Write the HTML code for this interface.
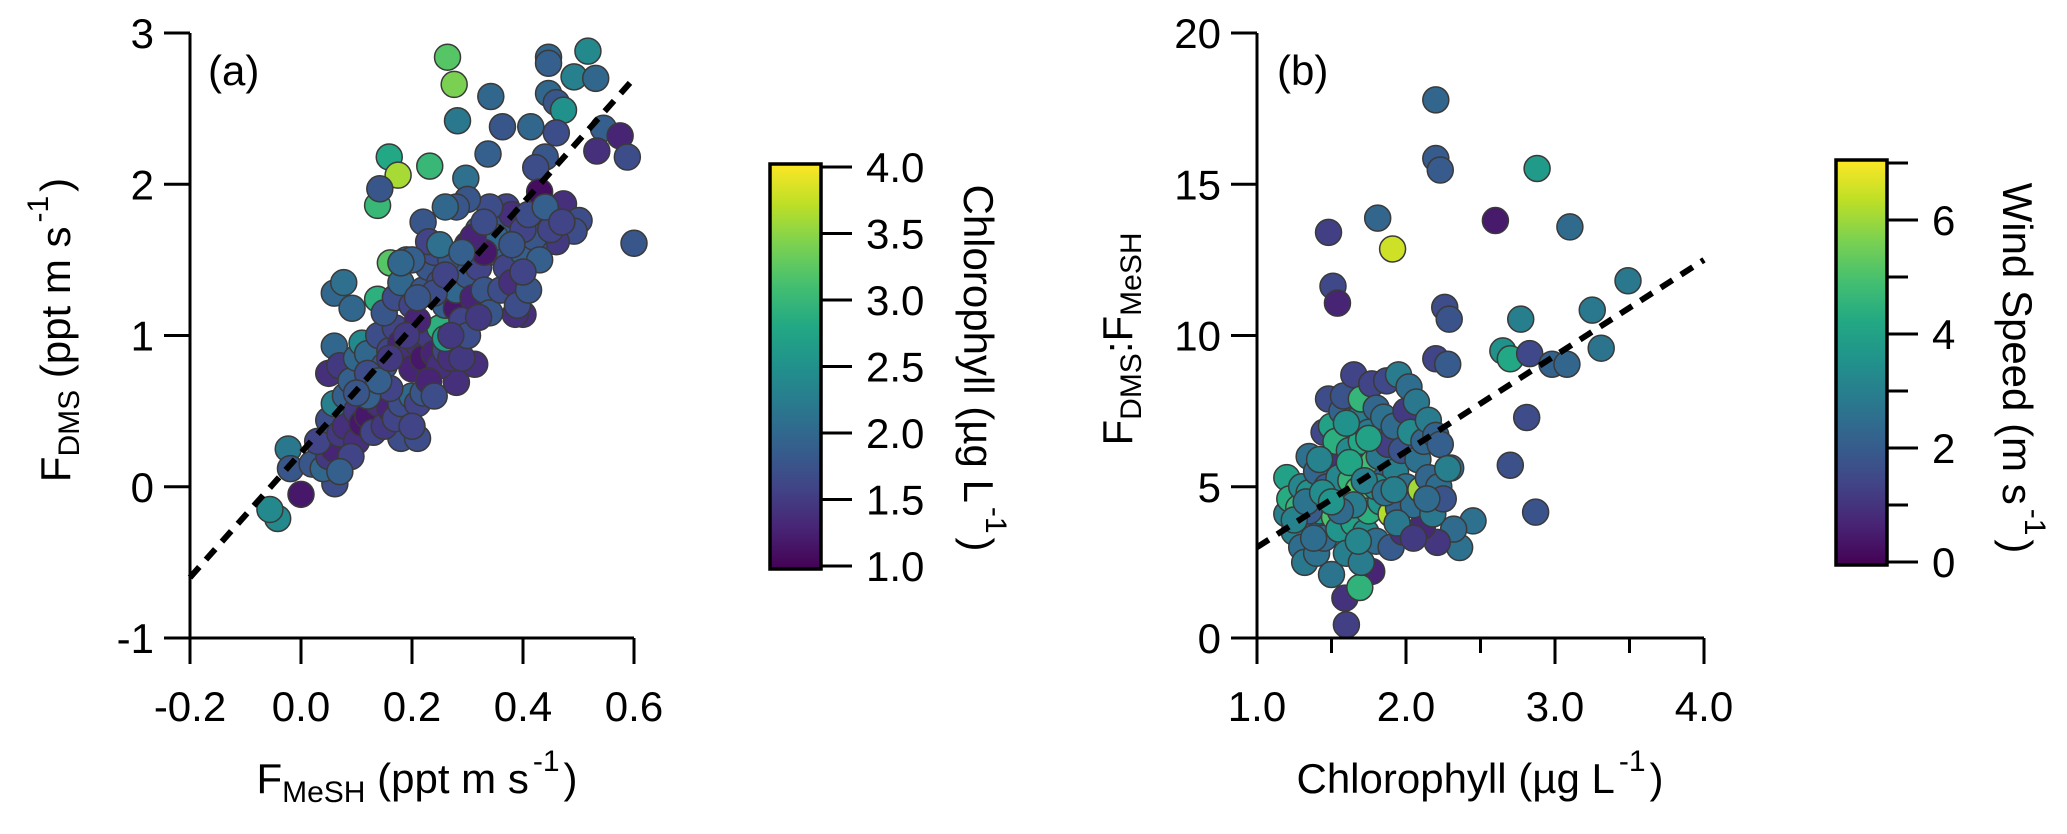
<!DOCTYPE html>
<html><head><meta charset="utf-8"><style>
html,body{margin:0;padding:0;background:#fff;}
svg{display:block;font-family:"Liberation Sans",Arial,sans-serif;}
</style></head><body>
<svg id="chart" width="2067" height="834" viewBox="0 0 2067 834" xmlns="http://www.w3.org/2000/svg">
<defs>
<linearGradient id="vir" x1="0" y1="1" x2="0" y2="0">
<stop offset="0" stop-color="#440154"/><stop offset="0.1" stop-color="#482475"/><stop offset="0.2" stop-color="#414487"/><stop offset="0.3" stop-color="#355f8d"/><stop offset="0.4" stop-color="#2a788e"/><stop offset="0.5" stop-color="#21918c"/><stop offset="0.6" stop-color="#22a884"/><stop offset="0.7" stop-color="#44bf70"/><stop offset="0.8" stop-color="#7ad151"/><stop offset="0.9" stop-color="#bddf26"/><stop offset="1" stop-color="#fde725"/>
</linearGradient>
</defs>
<g id="pa"></g>
<g id="pb"></g>
</svg>
<script>
// Panel a data: FMeSH, FDMS, chlorophyll
const aX=[0.264,0.276,0.282,0.342,0.363,0.337,0.414,0.446,0.446,0.517,0.492,0.531,0.446,0.46,0.473,0.46,0.545,0.575,0.533,0.588,0.44,0.423,0.43,0.473,0.60,0.501,0.492,0.46,0.42,0.159,0.175,0.232,0.138,0.142,0.297,0.06,0.077,0.092,0.138,0.161,-0.042,-0.056,0.0,-0.023,-0.019,0.061,0.06,0.18,0.21,0.313,0.28,0.40,0.386,
0.02,0.04,0.05,0.06,0.03,0.05,0.07,0.08,0.06,0.08,0.1,0.1,0.11,0.12,0.13,0.14,0.15,0.16,0.17,0.18,0.2,0.21,0.22,0.05,0.07,0.09,0.1,0.11,0.12,0.13,0.14,0.15,0.16,0.17,0.18,0.19,0.2,0.21,0.22,0.23,0.24,0.25,0.26,0.27,0.29,0.25,0.26,0.15,0.17,0.18,0.19,0.2,0.21,0.22,0.23,0.24,0.25,0.26,0.27,0.28,0.28,0.29,0.3,0.3,0.31,0.32,0.33,0.34,0.35,0.36,0.37,0.38,0.39,0.4,0.41,0.42,0.43,0.36,0.37,0.38,0.4,0.41,0.34,0.32,0.3,0.28,0.26,0.22,0.23,0.2,0.18,0.24,0.16,0.12,0.09,0.07,0.2,0.23,0.24,0.3,0.32,0.27,0.45,0.44,0.47,0.35,0.33,0.31,0.25,
0.12,0.14,0.19,0.21,0.26,0.29,0.33,0.38,0.4,0.1,0.16];
const aY=[2.84,2.66,2.42,2.58,2.38,2.20,2.38,2.84,2.80,2.88,2.71,2.70,2.60,2.54,2.49,2.34,2.37,2.32,2.22,2.18,2.18,2.11,1.95,1.87,1.61,1.76,1.69,1.62,1.59,2.18,2.06,2.12,1.86,1.97,2.04,1.28,1.35,1.18,1.24,1.48,-0.21,-0.15,-0.05,0.25,0.12,0.02,0.93,0.32,0.32,0.81,0.69,1.14,1.14,
0.15,0.12,0.2,0.25,0.3,0.44,0.35,0.4,0.55,0.6,0.5,0.3,0.42,0.47,0.36,0.55,0.4,0.52,0.45,0.55,0.6,0.55,0.62,0.75,0.8,0.7,0.85,0.95,0.88,0.72,1.0,0.8,0.9,1.05,0.95,0.9,0.78,0.95,0.85,1.0,0.88,0.8,0.9,0.85,0.85,1.05,0.98,1.15,1.25,1.35,1.5,1.2,1.1,1.3,1.45,1.55,1.35,1.2,1.5,1.18,1.3,1.1,1.4,1.6,1.25,1.45,1.3,1.15,1.55,1.3,1.45,1.35,1.2,1.55,1.3,1.65,1.5,1.75,1.85,1.8,1.7,1.8,1.85,1.7,1.9,1.85,1.85,1.75,1.62,1.5,1.48,1.28,0.65,0.6,0.2,0.1,0.4,0.7,0.6,1.0,1.12,1.0,1.7,1.85,1.75,1.65,1.55,1.65,1.6,
0.75,0.7,1.0,1.25,1.4,1.55,1.75,1.6,1.42,0.62,0.85];
const aC=[3.2,3.4,2.2,2.0,1.8,1.9,2.0,2.0,1.9,2.4,2.3,2.0,2.0,1.8,2.5,1.7,1.9,1.3,1.4,1.7,1.8,1.7,1.1,1.4,1.8,1.7,1.7,1.5,1.7,2.8,3.6,3.0,3.0,1.8,2.1,2.0,2.1,2.0,2.9,3.2,2.4,2.4,1.2,2.2,1.8,1.7,2.0,1.7,1.7,1.4,1.4,1.4,1.4,
1.8,2.0,1.5,1.3,1.6,1.7,1.5,1.4,2.3,1.9,1.5,1.4,1.2,1.2,1.6,1.4,1.5,1.3,1.6,1.7,2.0,1.6,1.8,1.4,1.5,1.9,2.0,2.4,2.0,2.1,1.7,1.8,1.6,1.6,1.3,1.4,1.3,1.4,1.2,1.5,1.3,1.4,1.6,1.4,1.5,2.9,2.6,1.8,1.7,2.0,1.9,1.6,1.3,1.8,1.8,1.7,1.7,1.9,1.8,1.2,2.0,1.6,1.8,1.3,1.3,1.6,1.8,1.8,1.9,1.7,1.6,1.4,1.7,1.9,1.8,1.8,1.9,1.8,1.6,1.4,1.6,1.7,1.7,1.9,1.8,1.8,2.0,1.8,1.6,1.9,2.0,1.7,1.6,1.9,1.6,1.9,1.6,1.3,1.7,1.7,1.5,1.5,1.6,1.9,1.6,2.0,1.2,1.3,2.1,
1.7,1.9,1.5,1.8,1.6,1.9,1.7,1.8,1.6,1.8,1.5];
const aFit=[[-0.2,-0.6],[0.6,2.7]];
const aXTicks=["-0.2","0.0","0.2","0.4","0.6"];
const aYTicks=["-1","0","1","2","3"];
const aCTicks=["1.0","1.5","2.0","2.5","3.0","3.5","4.0"];
// Panel b data: chlorophyll, ratio, wind speed
const bX=[2.2,2.2,2.23,2.88,1.81,1.48,1.91,2.6,3.1,3.49,1.51,1.54,2.26,2.29,2.77,3.25,3.31,2.65,2.70,2.83,2.98,3.08,2.2,2.28,2.81,2.70,2.87,1.6,1.59,1.77,1.69,2.36,2.45,2.32,2.21,2.11,2.3,
1.2,1.2,1.22,1.25,1.28,1.3,1.3,1.32,1.35,1.35,1.38,1.4,1.4,1.42,1.45,1.45,1.47,1.48,1.5,1.5,1.5,1.52,1.53,1.55,1.55,1.57,1.58,1.6,1.6,1.62,1.63,1.65,1.65,1.67,1.68,1.7,1.7,1.7,1.72,1.73,1.75,1.75,1.77,1.78,1.8,1.8,1.82,1.83,1.85,1.85,1.87,1.88,1.9,1.9,1.92,1.93,1.95,1.95,1.97,1.98,2.0,2.0,2.02,2.03,2.05,2.07,2.08,2.1,2.12,2.15,2.15,2.18,2.2,2.22,2.23,2.25,2.28,1.35,1.42,1.6,1.75,1.65,1.8,
1.25,1.33,1.44,1.56,1.62,1.72,1.86,1.94,2.05,2.14,1.38,1.5,1.68,1.92];
const bY=[17.79,15.85,15.47,15.52,13.88,13.41,12.86,13.8,13.59,11.81,11.63,11.07,10.93,10.54,10.54,10.84,9.58,9.49,9.23,9.40,9.05,9.05,9.23,9.05,7.29,5.71,4.16,0.44,1.32,2.2,1.67,2.99,3.87,3.6,3.16,3.69,5.62,
5.3,4.1,4.6,3.5,4.3,5.0,3.0,2.5,4.8,6.0,3.8,5.5,2.8,4.2,6.8,3.3,5.0,7.9,7.0,6.0,2.1,4.0,6.5,5.3,3.6,7.5,8.0,4.5,2.8,6.2,5.2,3.8,8.7,7.2,4.9,6.5,2.5,7.9,5.5,3.5,6.8,4.2,8.4,5.8,7.6,3.2,6.0,4.5,7.3,5.2,8.5,6.4,4.1,3.0,7.0,5.5,8.7,4.3,6.2,3.5,7.5,5.0,8.3,6.8,4.4,7.8,5.9,4.9,6.5,7.2,5.3,4.1,6.7,5.0,6.4,4.6,5.6,4.2,5.9,7.1,6.6,4.4,5.0,
3.9,4.5,4.8,4.2,5.8,5.2,4.8,3.8,3.3,4.6,3.3,4.5,3.2,4.9];
const bC=[2.3,2.0,2.0,3.8,2.3,1.3,6.5,0.5,2.4,2.8,1.5,0.7,1.6,1.8,3.0,2.8,2.7,3.5,4.2,1.5,2.2,2.3,1.4,2.0,1.6,1.7,1.8,1.3,1.0,0.7,4.5,2.6,2.6,2.4,1.1,0.8,2.5,
4.0,3.0,4.3,3.0,4.6,3.2,2.5,2.8,3.5,2.6,2.0,2.3,2.6,3.8,1.5,2.4,2.0,1.6,4.0,1.0,2.7,5.0,4.4,3.2,3.6,2.2,1.8,2.9,3.0,3.3,4.6,4.0,1.4,2.9,5.2,4.2,2.9,4.6,3.8,3.4,2.8,4.4,1.4,4.8,2.3,2.5,2.8,3.6,2.6,2.2,1.5,1.3,6.2,2.0,2.4,3.0,2.9,2.2,1.8,1.0,1.2,2.6,2.5,3.3,2.5,2.8,2.6,6.0,2.3,2.9,2.3,2.8,2.2,2.5,2.1,1.8,3.0,2.0,3.1,3.5,4.0,2.9,3.4,
3.1,2.7,3.4,2.4,4.1,3.0,2.6,2.8,1.2,2.4,2.5,3.6,3.2,3.0];
const bFit=[[1.0,3.0],[4.0,12.5]];
const bXTicks=["1.0","2.0","3.0","4.0"];
const bYTicks=["0","5","10","15","20"];
const bCTicks=["0","2","4","6"];

const NS="http://www.w3.org/2000/svg";
const stops=["#440154","#482475","#414487","#355f8d","#2a788e","#21918c","#22a884","#44bf70","#7ad151","#bddf26","#fde725"];
function hx(h){return [1,3,5].map(i=>parseInt(h.substr(i,2),16));}
function viridis(t){t=Math.max(0,Math.min(1,t));const p=t*10,i=Math.min(9,Math.floor(p)),f=p-i;const a=hx(stops[i]),b=hx(stops[i+1]);return "rgb("+a.map((v,k)=>Math.round(v+(b[k]-v)*f)).join(",")+")";}
function mk(parent,tag,attrs,text){const e=document.createElementNS(NS,tag);for(const k in attrs)e.setAttribute(k,attrs[k]);if(text!==undefined)e.textContent=text;parent.appendChild(e);return e;}
const FS=42;

function panel(g,o){
  const sx=v=>o.x0+(v-o.xmin)/(o.xmax-o.xmin)*(o.x1-o.x0);
  const sy=v=>o.y0-(v-o.ymin)/(o.ymax-o.ymin)*(o.y0-o.y1);
  const pg=mk(g,"g",{});
  
  
  for(let i=0;i<o.X.length;i++){
    const c=mk(pg,"circle",{cx:sx(o.X[i]),cy:sy(o.Y[i]),r:13,fill:viridis((o.C[i]-o.cmin)/(o.cmax-o.cmin)),stroke:"#3a3a3a","stroke-width":1.5});
    
    
  }
  const fl=mk(g,"line",{x1:sx(o.fit[0][0]),y1:sy(o.fit[0][1]),x2:sx(o.fit[1][0]),y2:sy(o.fit[1][1]),stroke:"#000","stroke-width":6,"stroke-dasharray":"14,10"});
  
  
  const ax=mk(g,"g",{stroke:"#000","stroke-width":3,fill:"none"});
  
  
  mk(ax,"line",{x1:o.x0,y1:o.y1,x2:o.x0,y2:o.y0+26});
  mk(ax,"line",{x1:o.x0-26,y1:o.y0,x2:o.x1,y2:o.y0});
  o.xt.forEach(t=>{const v=parseFloat(t);mk(ax,"line",{x1:sx(v),y1:o.y0,x2:sx(v),y2:o.y0+26});
    const tx=mk(g,"text",{x:sx(v),y:o.y0+83,"font-size":FS,"text-anchor":"middle"},t);
    
    });
  if(o.xminor) o.xminor.forEach(v=>mk(ax,"line",{x1:sx(v),y1:o.y0,x2:sx(v),y2:o.y0+15}));
  o.yt.forEach(t=>{const v=parseFloat(t);mk(ax,"line",{x1:o.x0-26,y1:sy(v),x2:o.x0,y2:sy(v)});
    const tx=mk(g,"text",{x:o.x0-36,y:sy(v)+15,"font-size":FS,"text-anchor":"end"},t);
    
    });
  const cb=mk(g,"rect",{x:o.cbx,y:o.cby0,width:51,height:o.cby1-o.cby0,fill:"url(#vir)",stroke:"#000","stroke-width":3.5});
  
  
  const cy=v=>o.cby1-3-(v-o.cmin)/(o.cmax-o.cmin)*(o.cby1-o.cby0-6);
  o.ct.forEach(t=>{const v=parseFloat(t);mk(ax,"line",{x1:o.cbx+51,y1:cy(v),x2:o.cbx+82,y2:cy(v)});
    const tx=mk(g,"text",{x:o.cbx+96,y:cy(v)+15,"font-size":FS},t);
    
    });
  if(o.cminor) o.cminor.forEach(v=>mk(ax,"line",{x1:o.cbx+51,y1:cy(v),x2:o.cbx+72,y2:cy(v)}));
}

const pa=document.getElementById('pa'), pb=document.getElementById('pb');
panel(pa,{id:'a',X:aX,Y:aY,C:aC,cmin:1,cmax:4,xmin:-0.2,xmax:0.6,ymin:-1,ymax:3,x0:190,x1:634,y0:638,y1:33,fit:aFit,xt:aXTicks,yt:aYTicks,ct:aCTicks,cbx:770,cby0:164,cby1:569});
panel(pb,{id:'b',X:bX,Y:bY,C:bC,cmin:0,cmax:7,xmin:1,xmax:4,ymin:0,ymax:20,x0:1257,x1:1704,y0:638,y1:33,fit:bFit,xt:bXTicks,yt:bYTicks,ct:bCTicks,xminor:[1.5,2.5,3.5],cminor:[1,3,5,7],cbx:1836,cby0:160,cby1:565});
</script>
<svg style="position:absolute;left:0;top:0" width="2067" height="834" xmlns="http://www.w3.org/2000/svg" font-family="Liberation Sans, Arial, sans-serif">
<text x="208" y="85" font-size="42">(a)</text>
<text x="1277" y="85" font-size="42">(b)</text>
<text x="417" y="793" font-size="42" text-anchor="middle">F<tspan font-size="30" dy="9">MeSH</tspan><tspan dy="-9"> (ppt m s</tspan><tspan font-size="30" dy="-22" dx="4">-1</tspan><tspan dy="22" dx="4">)</tspan></text>
<text transform="translate(70,330) rotate(-90)" font-size="42" text-anchor="middle">F<tspan font-size="30" dy="9">DMS</tspan><tspan dy="-9"> (ppt m s</tspan><tspan font-size="30" dy="-22" dx="4">-1</tspan><tspan dy="22" dx="4">)</tspan></text>
<text transform="translate(964,368) rotate(90)" font-size="42" text-anchor="middle">Chlorophyll (µg L<tspan font-size="30" dy="-22" dx="4">-1</tspan><tspan dy="22" dx="4">)</tspan></text>
<text x="1480" y="793" font-size="42" text-anchor="middle">Chlorophyll (µg L<tspan font-size="30" dy="-22" dx="4">-1</tspan><tspan dy="22" dx="4">)</tspan></text>
<text transform="translate(1132,339) rotate(-90)" font-size="42" text-anchor="middle">F<tspan font-size="30" dy="9">DMS</tspan><tspan dy="-9">:F</tspan><tspan font-size="30" dy="9">MeSH</tspan></text>
<text transform="translate(2003,368) rotate(90)" font-size="42" text-anchor="middle">Wind Speed (m s<tspan font-size="30" dy="-22" dx="4">-1</tspan><tspan dy="22" dx="4">)</tspan></text>
</svg>
</body></html>
